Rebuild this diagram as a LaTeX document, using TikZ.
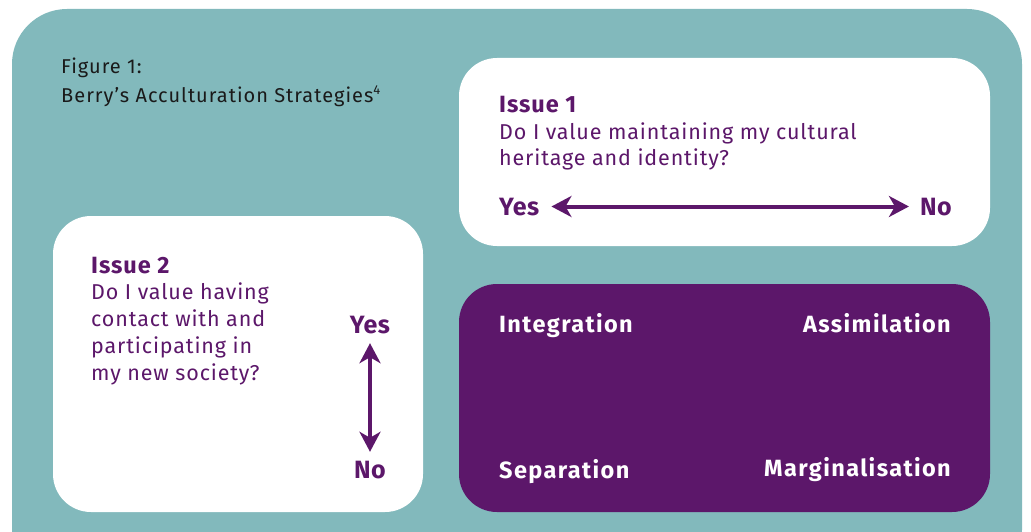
\documentclass[tikz,border=0pt]{standalone}
\usepackage{fontspec}
\setmainfont{Fira Sans}
\newfontfamily\capf[LetterSpace=5]{Fira Sans}
\newfontfamily\bodyf[LetterSpace=4]{Fira Sans}
\newfontfamily\headf[LetterSpace=4]{Fira Sans}
\newfontfamily\ynf[LetterSpace=2]{Fira Sans}
\newfontfamily\stratf[LetterSpace=6]{Fira Sans}
\usetikzlibrary{arrows.meta}
\definecolor{tealbg}{HTML}{82B9BC}
\definecolor{purp}{HTML}{5C176A}
\definecolor{captxt}{HTML}{1A1A1A}
\tikzset{
  panel/.style={fill=white, rounded corners=38pt},
  purpanel/.style={fill=purp, rounded corners=38pt},
  captxt/.style={text=captxt, inner sep=0pt, font=\capf\fontsize{20}{27}\selectfont},
  bodytxt/.style={text=purp, inner sep=0pt, font=\bodyf\fontsize{21.5}{27}\selectfont},
  headtxt/.style={text=purp, inner sep=0pt, font=\headf\bfseries\fontsize{23.5}{27}\selectfont},
  yn/.style={text=purp, inner sep=0pt, text height=17pt, text depth=0pt, font=\ynf\bfseries\fontsize{25}{27}\selectfont},
  strat/.style={text=white, inner sep=0pt, font=\stratf\bfseries\fontsize{23.5}{27}\selectfont},
  biarrow/.style={line width=4pt, draw=purp, {Stealth[length=20pt,width=21pt,inset=6pt]}-{Stealth[length=20pt,width=21pt,inset=6pt]}},
}
\begin{document}
\begin{tikzpicture}[x=1pt,y=-1pt]
\useasboundingbox (0,0) rectangle (1031,532);
\clip (0,0) rectangle (1031,532);
\fill[tealbg, rounded corners=55pt] (12,9) rectangle (1022,585);
% caption
\node[captxt, anchor=base west] (fig) at (61,74) {Figure 1:};
\node[captxt, anchor=base west] (title) at (61,103) {Berry’s Acculturation Strategies\raisebox{8pt}{\fontsize{13}{13}\selectfont 4}};
% panels
\fill[panel] (459,58) rectangle (990,246);
\fill[panel] (53,216) rectangle (423,512);
\fill[purpanel] (459,284) rectangle (990,512);
% Issue 1
\node[headtxt, anchor=base west] (i1) at (499,113) {Issue 1};
\node[bodytxt, anchor=base west] (q1a) at (499,140) {Do I value maintaining my cultural};
\node[bodytxt, anchor=base west] (q1b) at (499,165) {heritage and identity?};
\node[yn, anchor=base west] (yes1) at (499,215) {Yes};
\node[yn, anchor=base east] (no1) at (952,215) {No};
\draw[biarrow, shorten <=12pt, shorten >=11pt] (yes1.east) -- (no1.west);
% Issue 2
\node[headtxt, anchor=base west] (i2) at (91,273) {Issue 2};
\node[bodytxt, anchor=base west] (q2a) at (91,299) {Do I value having};
\node[bodytxt, anchor=base west] (q2b) at (91,326) {contact with and};
\node[bodytxt, anchor=base west] (q2c) at (91,353) {participating in};
\node[bodytxt, anchor=base west] (q2d) at (91,380) {my new society?};
\node[yn, anchor=base] (yes2) at (370,333) {Yes};
\node[yn, anchor=base] (no2) at (370,478) {No};
\draw[biarrow, shorten <=10pt, shorten >=9pt] (yes2.south) -- (no2.north);
% strategies
\node[strat, anchor=base west] (integ) at (499,332) {Integration};
\node[strat, anchor=base east] (assim) at (951,332) {Assimilation};
\node[strat, anchor=base west] (sep) at (499,478) {Separation};
\node[strat, anchor=base east] (marg) at (951,476) {Marginalisation};
\end{tikzpicture}
\end{document}
